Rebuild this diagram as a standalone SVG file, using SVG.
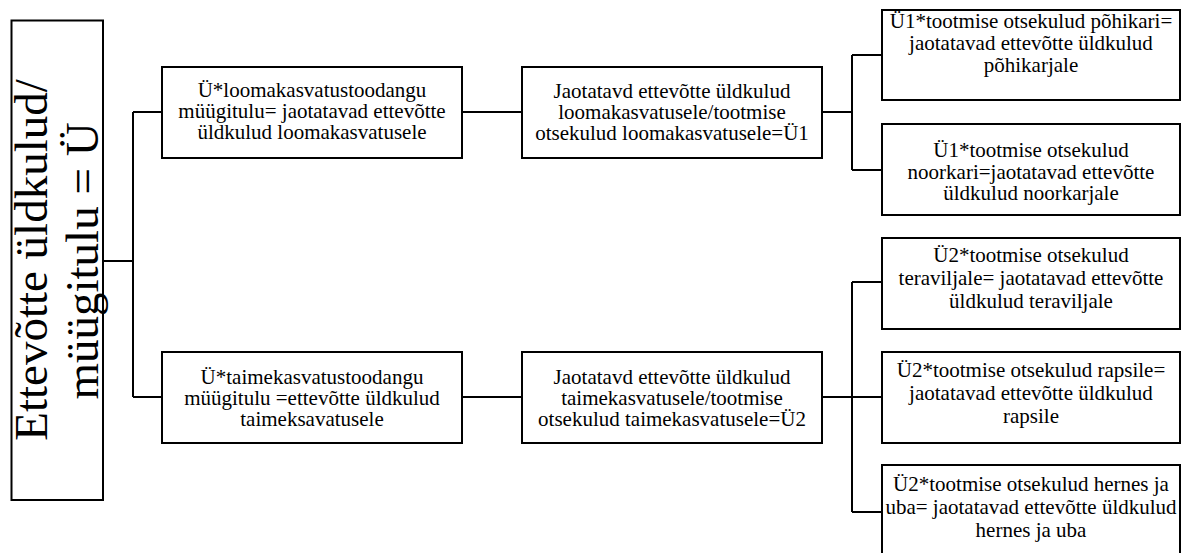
<svg xmlns="http://www.w3.org/2000/svg" width="1182" height="553" viewBox="0 0 1182 553">
<style>
.box{fill:#fff;stroke:#000;stroke-width:2}
.t{font-family:'Liberation Serif','DejaVu Serif',serif;font-size:21px;fill:#000;text-anchor:middle}
.root{font-family:'Liberation Serif','DejaVu Serif',serif;font-size:47px;fill:#000;text-anchor:middle}
.c{fill:none;stroke:#000;stroke-width:2}
</style>
<rect width="1182" height="553" fill="#fff"/>
<g id="connectors">
<path class="c" d="M103,261 H133 M133,112 V397 M133,112 H162 M133,397 H162"/>
<path class="c" d="M462,112 H522 M462,397 H522"/>
<path class="c" d="M822,112 H852 M852,55 V170 M852,55 H882 M852,170 H882"/>
<path class="c" d="M822,397 H852 M852,282 V512 M852,282 H882 M852,397 H882 M852,512 H882"/>
</g>
<g id="root">
<rect class="box" x="11.5" y="20.5" width="91.5" height="479.5"/>
<text class="root" transform="translate(47,260) rotate(-90)">Ettevõtte üldkulud/</text>
<text class="root" transform="translate(98,261) rotate(-90)">müügitulu = Ü</text>
</g>
<g id="a1">
<rect class="box" x="162" y="67" width="300" height="91"/>
<text class="t" x="312" y="97">Ü*loomakasvatustoodangu</text>
<text class="t" x="312" y="118">müügitulu= jaotatavad ettevõtte</text>
<text class="t" x="312" y="139">üldkulud loomakasvatusele</text>
</g>
<g id="a2">
<rect class="box" x="162" y="352" width="300" height="91"/>
<text class="t" x="312" y="383.5">Ü*taimekasvatustoodangu</text>
<text class="t" x="312" y="405">müügitulu =ettevõtte üldkulud</text>
<text class="t" x="312" y="426">taimeksavatusele</text>
</g>
<g id="b1">
<rect class="box" x="522" y="67" width="300" height="91"/>
<text class="t" x="672" y="97.5">Jaotatavd ettevõtte üldkulud</text>
<text class="t" x="672" y="118.5">loomakasvatusele/tootmise</text>
<text class="t" x="672" y="140">otsekulud loomakasvatusele=Ü1</text>
</g>
<g id="b2">
<rect class="box" x="522" y="352" width="300" height="91"/>
<text class="t" x="672" y="383.5">Jaotatavd ettevõtte üldkulud</text>
<text class="t" x="672" y="405">taimekasvatusele/tootmise</text>
<text class="t" x="672" y="426">otsekulud taimekasvatusele=Ü2</text>
</g>
<g id="c1">
<rect class="box" x="882" y="10" width="298" height="90"/>
<text class="t" x="1031" y="28">Ü1*tootmise otsekulud põhikari=</text>
<text class="t" x="1031" y="50">jaotatavad ettevõtte üldkulud</text>
<text class="t" x="1031" y="71.5">põhikarjale</text>
</g>
<g id="c2">
<rect class="box" x="882" y="124" width="298" height="91"/>
<text class="t" x="1031" y="156.5">Ü1*tootmise otsekulud</text>
<text class="t" x="1031" y="178.5">noorkari=jaotatavad ettevõtte</text>
<text class="t" x="1031" y="200">üldkulud noorkarjale</text>
</g>
<g id="c3">
<rect class="box" x="882" y="238" width="298" height="91"/>
<text class="t" x="1031" y="262">Ü2*tootmise otsekulud</text>
<text class="t" x="1031" y="285">teraviljale= jaotatavad ettevõtte</text>
<text class="t" x="1031" y="308">üldkulud teraviljale</text>
</g>
<g id="c4">
<rect class="box" x="882" y="352" width="298" height="91"/>
<text class="t" x="1031" y="377">Ü2*tootmise otsekulud rapsile=</text>
<text class="t" x="1031" y="400">jaotatavad ettevõtte üldkulud</text>
<text class="t" x="1031" y="422.5">rapsile</text>
</g>
<g id="c5">
<rect class="box" x="882" y="465" width="298" height="91"/>
<text class="t" x="1031" y="491">Ü2*tootmise otsekulud hernes ja</text>
<text class="t" x="1031" y="513.5">uba= jaotatavad ettevõtte üldkulud</text>
<text class="t" x="1031" y="536.5">hernes ja uba</text>
</g>
</svg>
